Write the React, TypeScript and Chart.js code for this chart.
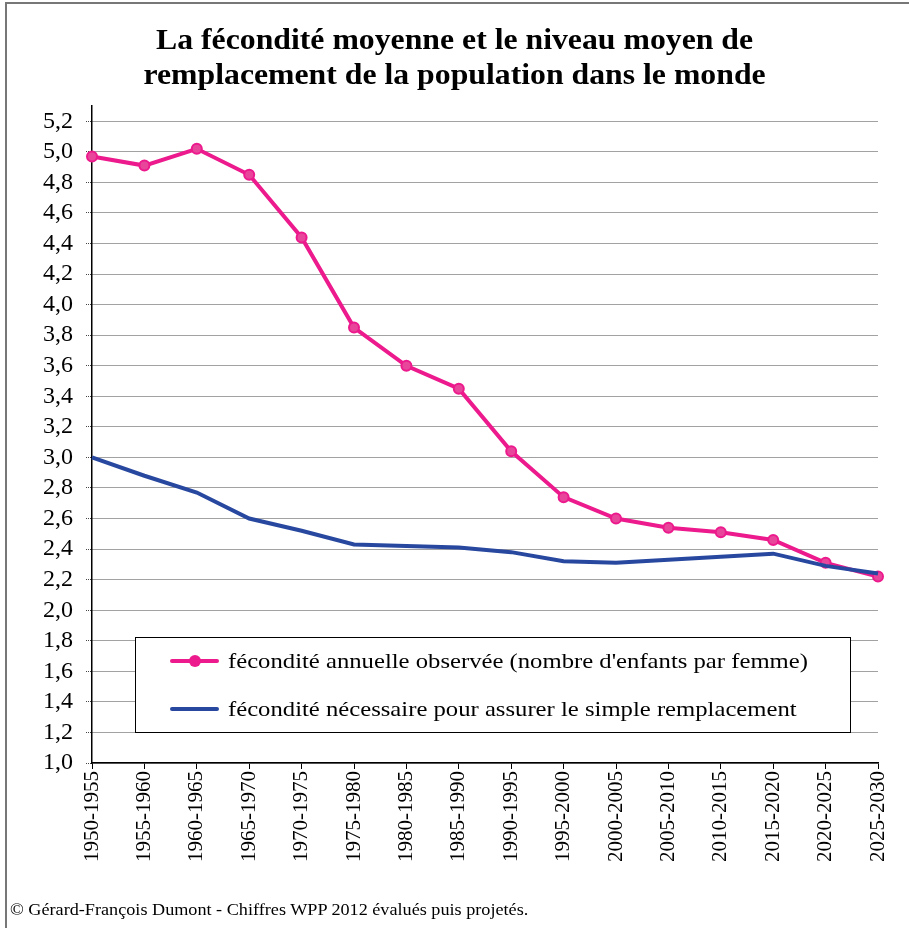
import React, { useEffect, useRef } from "react";
import { Chart, registerables } from "chart.js";

Chart.register(...registerables);

const categories = [
  "1950-1955", "1955-1960", "1960-1965", "1965-1970", "1970-1975", "1975-1980",
  "1980-1985", "1985-1990", "1990-1995", "1995-2000", "2000-2005", "2005-2010",
  "2010-2015", "2015-2020", "2020-2025", "2025-2030",
];

const observedFertility = [
  4.97, 4.91, 5.02, 4.85, 4.44, 3.85, 3.60, 3.45, 3.04, 2.74, 2.60, 2.54, 2.51, 2.46, 2.31, 2.22,
];

const replacementFertility = [
  3.00, 2.88, 2.77, 2.60, 2.52, 2.43, 2.42, 2.41, 2.38, 2.32, 2.31, 2.33, 2.35, 2.37, 2.29, 2.24,
];

const seriesLabels = [
  "fécondité annuelle observée (nombre d'enfants par femme)",
  "fécondité nécessaire pour assurer le simple remplacement",
];

const titleLines = [
  "La fécondité moyenne et le niveau moyen de",
  "remplacement de la population dans le monde",
];

const footerText = "© Gérard-François Dumont - Chiffres WPP 2012 évalués puis projetés.";

const PINK = "rgb(236,26,140)";
const PINK_POINT = "rgb(232,70,155)";
const BLUE = "rgb(40,72,160)";
const SERIF = "'Liberation Serif', 'Times New Roman', serif";

const legendPlugin = {
  id: "boxLegend",
  afterDraw(chart: any) {
    const ctx = chart.ctx;
    const x0 = 135.5, y0 = 637.5, w = 715, h = 95;
    ctx.save();
    ctx.setLineDash([]);
    ctx.fillStyle = "#fff";
    ctx.fillRect(x0, y0, w, h);
    ctx.strokeStyle = "#000";
    ctx.lineWidth = 1;
    ctx.strokeRect(x0, y0, w, h);
    const rows = [
      { y: 661, color: PINK, point: true, label: seriesLabels[0] },
      { y: 709, color: BLUE, point: false, label: seriesLabels[1] },
    ];
    for (const r of rows) {
      ctx.strokeStyle = r.color;
      ctx.lineWidth = 4;
      ctx.lineCap = "round";
      ctx.beginPath();
      ctx.moveTo(172, r.y);
      ctx.lineTo(217, r.y);
      ctx.stroke();
      if (r.point) {
        ctx.fillStyle = r.color;
        ctx.beginPath();
        ctx.arc(195, r.y, 6, 0, Math.PI * 2);
        ctx.fill();
      }
      ctx.save();
      ctx.fillStyle = "#000";
      ctx.font = `21px ${SERIF}`;
      ctx.textBaseline = "middle";
      ctx.textAlign = "left";
      ctx.translate(228, r.y + 1);
      ctx.scale(1.175, 1);
      ctx.fillText(r.label, 0, 0);
      ctx.restore();
    }
    ctx.restore();
  },
};

export default function App() {
  const canvasRef = useRef<HTMLCanvasElement | null>(null);

  useEffect(() => {
    if (!canvasRef.current) return;
    const chart = new Chart(canvasRef.current, {
      type: "line",
      data: {
        labels: categories,
        datasets: [
          {
            label: seriesLabels[1],
            data: replacementFertility,
            borderColor: BLUE,
            backgroundColor: BLUE,
            borderWidth: 4,
            pointRadius: 0,
            pointHoverRadius: 0,
            tension: 0,
          },
          {
            label: seriesLabels[0],
            data: observedFertility,
            borderColor: PINK,
            backgroundColor: PINK_POINT,
            borderWidth: 4,
            pointRadius: 5,
            pointBorderWidth: 2,
            pointBorderColor: PINK,
            pointBackgroundColor: PINK_POINT,
            tension: 0,
          },
        ],
      },
      options: {
        responsive: false,
        animation: false,
        events: [],
        layout: { padding: { top: 106, left: 0, right: 31, bottom: 0 } },
        plugins: {
          legend: { display: false },
          title: { display: false },
          tooltip: { enabled: false },
        },
        scales: {
          x: {
            type: "category",
            offset: false,
            afterFit: (s: any) => { s.height = 165; },
            grid: {
              display: true,
              drawOnChartArea: false,
              drawTicks: true,
              tickLength: 6,
              color: "#000",
              lineWidth: 1,
            },
            border: { display: true, color: "#000", width: 1.5 },
            ticks: {
              autoSkip: false,
              maxRotation: 90,
              minRotation: 90,
              padding: 2,
              color: "#000",
              font: { family: SERIF, size: 21 },
            },
          },
          y: {
            min: 1.0,
            max: 5.3,
            afterFit: (s: any) => { s.width = 92; },
            grid: {
              color: "#444",
              lineWidth: 1,
              tickLength: 6,
              drawTicks: true,
              tickBorderDash: [1, 1],
            },
            border: { display: true, color: "#000", width: 1.5, dash: [1, 1] },
            ticks: {
              stepSize: 0.2,
              includeBounds: false,
              autoSkip: false,
              padding: 13,
              color: "#000",
              font: { family: SERIF, size: 24, lineHeight: 1 },
              callback: (v: any) => Number(v).toFixed(1).replace(".", ","),
            },
          },
        },
      } as any,
      plugins: [legendPlugin],
    });
    return () => chart.destroy();
  }, []);

  return (
    <div style={{ position: "absolute", left: 0, top: 0, width: 909, height: 928, background: "#fff", overflow: "hidden" }}>
      <div style={{ position: "absolute", left: 5, top: 2, width: 904, height: 926, borderLeft: "2px solid #777", borderTop: "2px solid #777" }} />
      <canvas ref={canvasRef} width={909} height={928} style={{ position: "absolute", left: 0, top: 0 }} />
      <div style={{ position: "absolute", left: 0, top: 22, width: 909, textAlign: "center", fontFamily: SERIF, fontWeight: "bold", fontSize: 29, lineHeight: "35px", color: "#000", transform: "scaleX(1.095)", transformOrigin: "454px 0" }}>
        {titleLines.map((t, i) => (<div key={i}>{t}</div>))}
      </div>
      <div style={{ position: "absolute", left: 10, top: 902, fontFamily: SERIF, fontSize: 16, lineHeight: "16px", color: "#000", whiteSpace: "nowrap", transform: "scaleX(1.136)", transformOrigin: "0 0" }}>
        {footerText}
      </div>
    </div>
  );
}
